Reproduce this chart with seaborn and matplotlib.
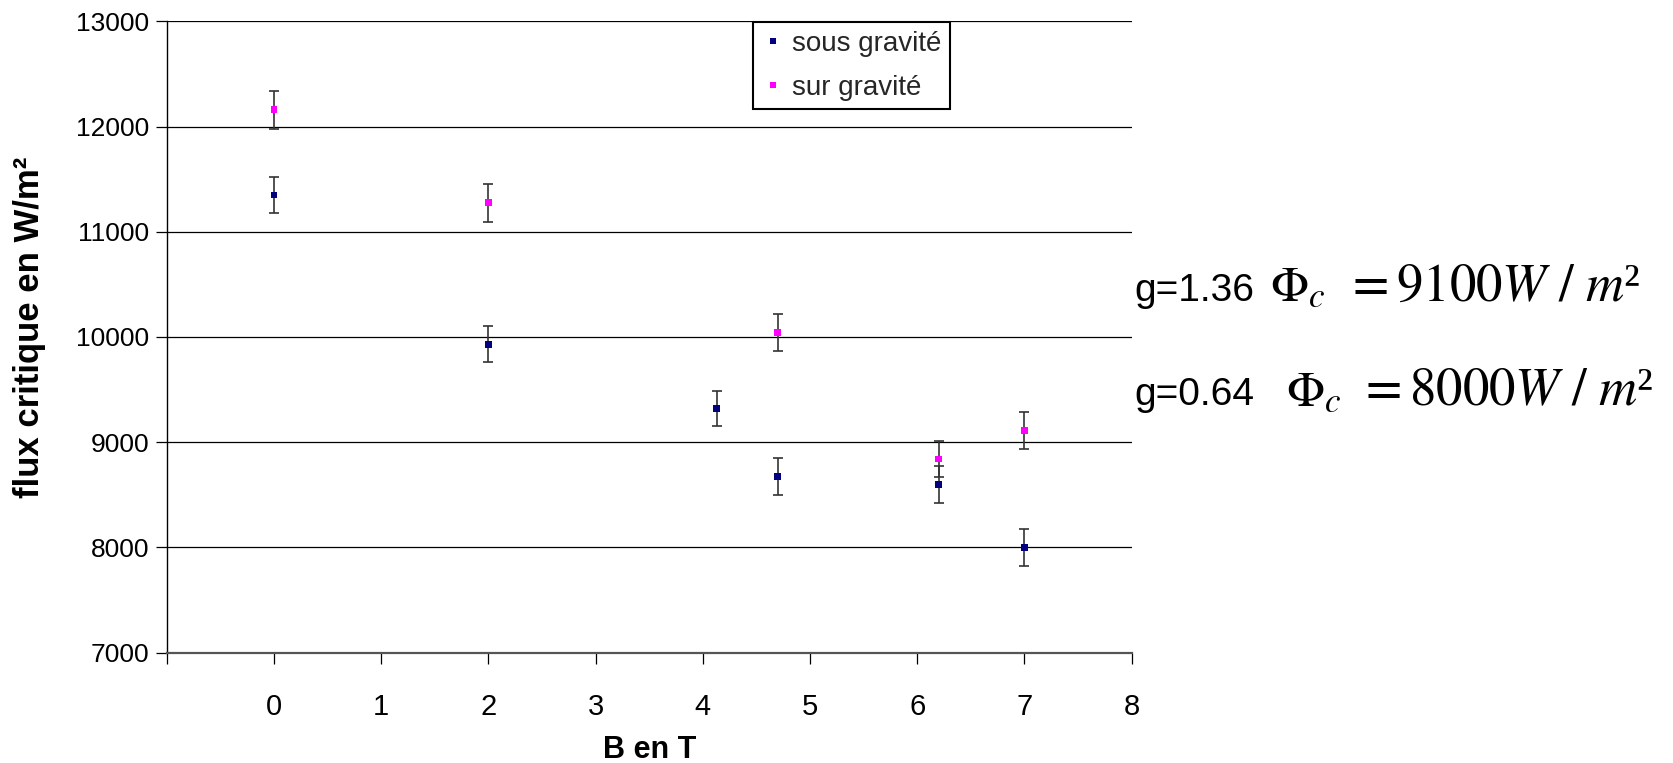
import matplotlib
matplotlib.use("Agg")
import matplotlib.pyplot as plt
import seaborn as sns
import pandas as pd

# Critical heat flux versus magnetic field, two gravity conditions
b_sous = [0, 2, 4.13, 4.7, 6.2, 7]
flux_sous = [11350, 9930, 9320, 8675, 8600, 8000]
err_sous = [175, 170, 170, 175, 175, 175]

b_sur = [0, 2, 4.7, 6.2, 7]
flux_sur = [12160, 11275, 10040, 8840, 9110]
err_sur = [180, 180, 175, 175, 175]

series_names = ["sous gravité", "sur gravité"]
series_colors = {"sous gravité": "#000080", "sur gravité": "#FF00FF"}

y_ticks = [7000, 8000, 9000, 10000, 11000, 12000, 13000]
x_ticks = [-1, 0, 1, 2, 3, 4, 5, 6, 7, 8]
x_ticklabels = [""] + [str(v) for v in range(0, 9)]

annot_g = ["g=1.36", "g=0.64"]
annot_phi = r"$\Phi_c$"
annot_rhs = [r"$=9100W\ /\ m$²", r"$=8000W\ /\ m$²"]

df = pd.concat([
    pd.DataFrame({"B": b_sous, "flux": flux_sous, "série": series_names[0]}),
    pd.DataFrame({"B": b_sur, "flux": flux_sur, "série": series_names[1]}),
], ignore_index=True)

sns.set_theme(style="white")
plt.rcParams["font.family"] = ["Liberation Sans", "DejaVu Sans"]

W, H = 1674, 763
fig = plt.figure(figsize=(W / 100, H / 100), dpi=100)
ax = fig.add_axes([166.7 / W, 1 - 652.5 / H, 965.0 / W, (652.5 - 21.4) / H])

# error bars first, markers above
ax.errorbar(b_sous, flux_sous, yerr=err_sous, fmt="none", ecolor="#333333",
            elinewidth=1.2, capsize=3.8, capthick=1.2, zorder=2)
ax.errorbar(b_sur, flux_sur, yerr=err_sur, fmt="none", ecolor="#333333",
            elinewidth=1.2, capsize=3.8, capthick=1.2, zorder=2)

sns.scatterplot(data=df, x="B", y="flux", hue="série", hue_order=series_names,
                palette=series_colors, marker="s", s=24, linewidth=0,
                ax=ax, zorder=3)

ax.set_xlim(-1, 8)
ax.set_ylim(7000, 13000)
ax.set_xticks(x_ticks)
ax.set_xticklabels(x_ticklabels)
ax.set_yticks(y_ticks)

ax.yaxis.grid(True, color="black", linewidth=0.9)
ax.xaxis.grid(False)
ax.set_axisbelow(True)

for side in ("top", "right"):
    ax.spines[side].set_visible(False)
ax.spines["left"].set_color("black")
ax.spines["left"].set_linewidth(1.0)
ax.spines["bottom"].set_color("#555555")
ax.spines["bottom"].set_linewidth(1.6)

ax.tick_params(axis="y", left=True, direction="out", length=8, width=0.9,
               color="black", pad=4.5, labelsize=19, labelcolor="black")
ax.tick_params(axis="x", bottom=True, direction="out", length=8, width=0.9,
               color="black", pad=21, labelsize=21, labelcolor="black")

ax.set_xlabel("B en T", fontsize=22, fontweight="bold", color="black")
ax.xaxis.set_label_coords(0.5, -0.131)
ax.set_ylabel("flux critique en W/m²", fontsize=25, fontweight="bold", color="black")
ax.yaxis.set_label_coords(-0.125, 0.515)

handles, labels = ax.get_legend_handles_labels()
leg = ax.legend(handles, labels, loc="upper left",
                bbox_to_anchor=(752.6 / W, 1 - 22.4 / H), bbox_transform=fig.transFigure,
                frameon=True, fancybox=False, edgecolor="black", facecolor="white",
                fontsize=20, borderpad=0.3, labelspacing=0.65, handlelength=0.86,
                handletextpad=0.26, borderaxespad=0, framealpha=1)
leg.get_frame().set_linewidth(1.5)

# side annotations: gravity level and critical flux
base_y = [300.5, 405.0]
phi_x = [1270, 1286]
rhs_x = [1345, 1358]
for i in range(2):
    y = 1 - base_y[i] / H
    fig.text(1134 / W, y, annot_g[i], fontsize=28, va="baseline",
             family="Liberation Sans", color="black")
    fig.text(phi_x[i] / W, y, annot_phi, fontsize=36, va="baseline",
             family="Liberation Serif", math_fontfamily="stix", color="black")
    fig.text(rhs_x[i] / W, y, annot_rhs[i], fontsize=38, va="baseline",
             family="Liberation Serif", math_fontfamily="stix", color="black")

fig.savefig("out.png", dpi=100)
